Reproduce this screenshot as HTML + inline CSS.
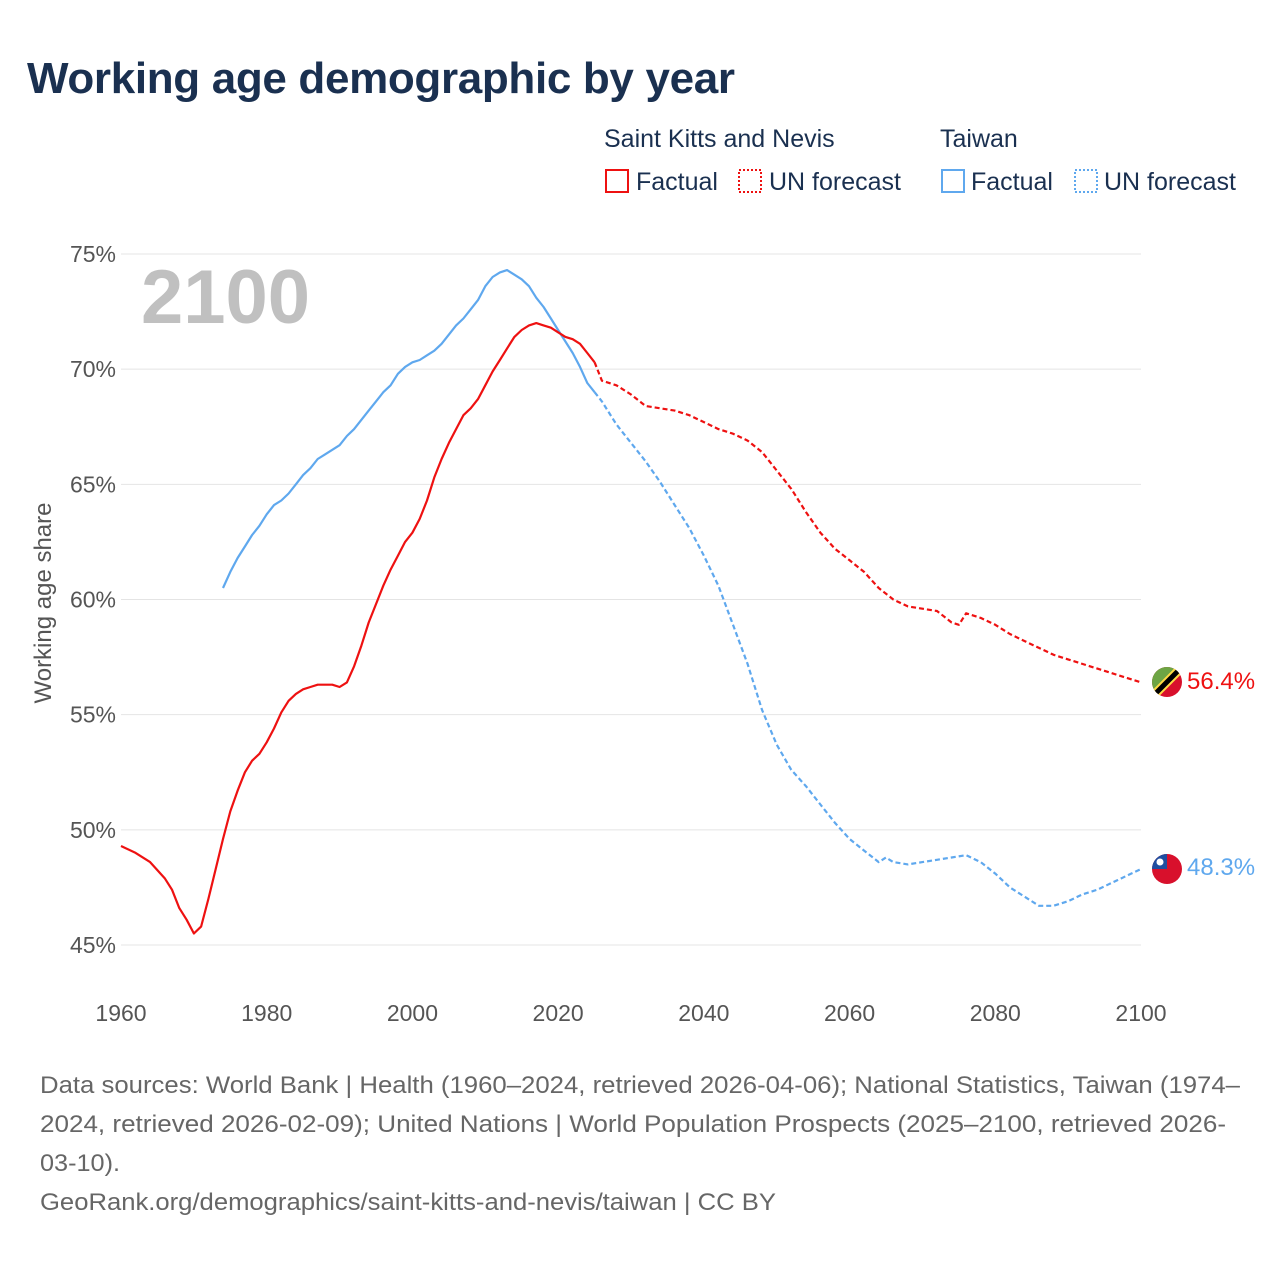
<!DOCTYPE html>
<html><head><meta charset="utf-8">
<style>
body{margin:0;background:#fff;font-family:"Liberation Sans",sans-serif;}
svg text{font-family:"Liberation Sans",sans-serif;}
</style></head>
<body>
<svg id="chart" width="1280" height="1280" xmlns="http://www.w3.org/2000/svg">
<text x="27" y="93" font-size="44" font-weight="bold" fill="#1a3050" textLength="708">Working age demographic by year</text>
<g font-size="25" fill="#1a3050">
<text x="604" y="147" fill="#1a3050">Saint Kitts and Nevis</text>
<text x="940" y="147" fill="#1a3050">Taiwan</text>
<g><rect x="606" y="170" width="22" height="22" fill="none" stroke="#ee1111" stroke-width="2"/><text x="636" y="190" fill="#1a3050">Factual</text></g>
<g><rect x="739" y="170" width="22" height="22" fill="none" stroke="#ee1111" stroke-width="2" stroke-dasharray="2,2"/><text x="769" y="190" fill="#1a3050">UN forecast</text></g>
<g><rect x="942" y="170" width="22" height="22" fill="none" stroke="#5fa8ee" stroke-width="2"/><text x="971" y="190" fill="#1a3050">Factual</text></g>
<g><rect x="1075" y="170" width="22" height="22" fill="none" stroke="#5fa8ee" stroke-width="2" stroke-dasharray="2,2"/><text x="1104" y="190" fill="#1a3050">UN forecast</text></g>
</g>
<g id="grid"></g>
<text x="141" y="323" font-size="76" font-weight="bold" fill="#c0c0c0">2100</text>
<text transform="translate(51,603) rotate(-90)" text-anchor="middle" font-size="24" fill="#555">Working age share</text>
<g id="series"></g>
<g>
<clipPath id="c1"><circle cx="1167" cy="682" r="15"/></clipPath>
<g clip-path="url(#c1)"><rect x="1150" y="665" width="34" height="34" fill="#d8102c"/><polygon points="1150,665 1184,665 1150,699" fill="#6da544"/><line x1="1184" y1="665" x2="1150" y2="699" stroke="#ffda44" stroke-width="9"/><line x1="1184" y1="665" x2="1150" y2="699" stroke="#000" stroke-width="5"/></g>
</g>
<g>
<clipPath id="c2"><circle cx="1167" cy="869" r="15"/></clipPath>
<g clip-path="url(#c2)"><rect x="1150" y="852" width="34" height="34" fill="#d8102c"/><rect x="1150" y="852" width="17" height="17" fill="#1f4ea0"/><circle cx="1160" cy="862" r="3.5" fill="#fff"/></g>
</g>
<text x="1187" y="689" font-size="24" fill="#ee1111">56.4%</text>
<text x="1187" y="875" font-size="24" fill="#5fa8ee">48.3%</text>
<g font-size="24" fill="#666">
<text x="40" y="1093" textLength="1200" lengthAdjust="spacingAndGlyphs">Data sources: World Bank | Health (1960–2024, retrieved 2026-04-06); National Statistics, Taiwan (1974–</text>
<text x="40" y="1132" textLength="1186" lengthAdjust="spacingAndGlyphs">2024, retrieved 2026-02-09); United Nations | World Population Prospects (2025–2100, retrieved 2026-</text>
<text x="40" y="1171" textLength="80" lengthAdjust="spacingAndGlyphs">03-10).</text>
<text x="40" y="1210" textLength="736" lengthAdjust="spacingAndGlyphs">GeoRank.org/demographics/saint-kitts-and-nevis/taiwan | CC BY</text>
</g>
</svg>
<script>
const yTicks=[45,50,55,60,65,70,75];
const xTicks=[1960,1980,2000,2020,2040,2060,2080,2100];
const sknYears=[1960,1962,1964,1966,1967,1968,1969,1970,1971,1972,1973,1974,1975,1976,1977,1978,1979,1980,1981,1982,1983,1984,1985,1986,1987,1988,1989,1990,1991,1992,1993,1994,1995,1996,1997,1998,1999,2000,2001,2002,2003,2004,2005,2006,2007,2008,2009,2010,2011,2012,2013,2014,2015,2016,2017,2018,2019,2020,2021,2022,2023,2024,2025];
const sknValues=[49.3,49.0,48.6,47.9,47.4,46.6,46.1,45.5,45.8,47.0,48.3,49.6,50.8,51.7,52.5,53.0,53.3,53.8,54.4,55.1,55.6,55.9,56.1,56.2,56.3,56.3,56.3,56.2,56.4,57.1,58.0,59.0,59.8,60.6,61.3,61.9,62.5,62.9,63.5,64.3,65.3,66.1,66.8,67.4,68.0,68.3,68.7,69.3,69.9,70.4,70.9,71.4,71.7,71.9,72.0,71.9,71.8,71.6,71.4,71.3,71.1,70.7,70.3];
const sknFcYears=[2025,2026,2028,2030,2032,2034,2036,2038,2040,2042,2044,2046,2048,2050,2052,2054,2056,2058,2060,2062,2064,2066,2068,2070,2072,2074,2075,2076,2078,2080,2082,2084,2086,2088,2090,2092,2094,2096,2098,2100];
const sknFcValues=[70.3,69.5,69.3,68.9,68.4,68.3,68.2,68.0,67.7,67.4,67.2,66.9,66.4,65.6,64.8,63.8,62.9,62.2,61.7,61.2,60.5,60.0,59.7,59.6,59.5,59.0,58.9,59.4,59.2,58.9,58.5,58.2,57.9,57.6,57.4,57.2,57.0,56.8,56.6,56.4];
const twYears=[1974,1975,1976,1977,1978,1979,1980,1981,1982,1983,1984,1985,1986,1987,1988,1989,1990,1991,1992,1993,1994,1995,1996,1997,1998,1999,2000,2001,2002,2003,2004,2005,2006,2007,2008,2009,2010,2011,2012,2013,2014,2015,2016,2017,2018,2019,2020,2021,2022,2023,2024,2025];
const twValues=[60.5,61.2,61.8,62.3,62.8,63.2,63.7,64.1,64.3,64.6,65.0,65.4,65.7,66.1,66.3,66.5,66.7,67.1,67.4,67.8,68.2,68.6,69.0,69.3,69.8,70.1,70.3,70.4,70.6,70.8,71.1,71.5,71.9,72.2,72.6,73.0,73.6,74.0,74.2,74.3,74.1,73.9,73.6,73.1,72.7,72.2,71.7,71.2,70.7,70.1,69.4,69.0];
const twFcYears=[2025,2026,2028,2030,2032,2034,2036,2038,2040,2042,2044,2046,2048,2050,2052,2054,2056,2058,2060,2062,2064,2065,2066,2068,2070,2072,2074,2076,2078,2080,2082,2084,2086,2088,2090,2092,2094,2096,2098,2100];
const twFcValues=[69.0,68.6,67.6,66.8,66.0,65.1,64.1,63.1,61.9,60.6,58.9,57.2,55.2,53.7,52.6,51.9,51.1,50.3,49.6,49.1,48.6,48.8,48.6,48.5,48.6,48.7,48.8,48.9,48.6,48.1,47.5,47.1,46.7,46.7,46.9,47.2,47.4,47.7,48.0,48.3];
const NS='http://www.w3.org/2000/svg';
const xs=y=>121+(y-1960)*(1020/140);
const ys=v=>945-(v-45)*(691/30);
const grid=document.getElementById('grid');
yTicks.forEach(t=>{
  const l=document.createElementNS(NS,'line');
  l.setAttribute('x1',121);l.setAttribute('x2',1141);l.setAttribute('y1',ys(t));l.setAttribute('y2',ys(t));
  l.setAttribute('stroke','#e4e4e4');l.setAttribute('stroke-width','1');
  
  
  grid.appendChild(l);
  const tx=document.createElementNS(NS,'text');
  tx.setAttribute('x',116);tx.setAttribute('y',ys(t)+8);tx.setAttribute('text-anchor','end');
  tx.setAttribute('font-size','23');tx.setAttribute('fill','#555');tx.textContent=t+'%';
  
  
  grid.appendChild(tx);
});
xTicks.forEach(t=>{
  const tx=document.createElementNS(NS,'text');
  tx.setAttribute('x',xs(t));tx.setAttribute('y',1021);tx.setAttribute('text-anchor','middle');
  tx.setAttribute('font-size','23');tx.setAttribute('fill','#555');tx.textContent=t;
  
  
  grid.appendChild(tx);
});
const ser=document.getElementById('series');
function line(xa,va,color,dash,name){
  const p=document.createElementNS(NS,'path');
  p.setAttribute('d',xa.map((x,i)=>(i?'L':'M')+xs(x).toFixed(1)+','+ys(va[i]).toFixed(1)).join(''));
  p.setAttribute('fill','none');p.setAttribute('stroke',color);p.setAttribute('stroke-width','2.2');
  p.setAttribute('stroke-linejoin','round');
  if(dash)p.setAttribute('stroke-dasharray','5,3');
  
  
  ser.appendChild(p);
}
line(twFcYears,twFcValues,'#5fa8ee',true,'taiwan-forecast-line');
line(twYears,twValues,'#5fa8ee',false,'taiwan-factual-line');
line(sknFcYears,sknFcValues,'#ee1111',true,'skn-forecast-line');
line(sknYears,sknValues,'#ee1111',false,'skn-factual-line');
</script>
</body></html>
